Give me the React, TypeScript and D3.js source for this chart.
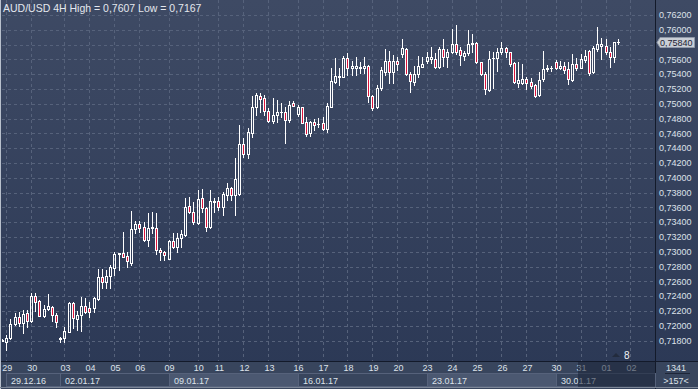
import React from "react";
import * as d3 from "d3";

// 4H candles, [open, high, low, close]
const candles: number[][] = [
  [0.71801, 0.71822, 0.71794, 0.71808],
  [0.71785, 0.71876, 0.7167, 0.71831],
  [0.71835, 0.72092, 0.71822, 0.72024],
  [0.72024, 0.72173, 0.72011, 0.72119],
  [0.72119, 0.72186, 0.71997, 0.72038],
  [0.72042, 0.72214, 0.71903, 0.72159],
  [0.72173, 0.72214, 0.71984, 0.72069],
  [0.72065, 0.72443, 0.72051, 0.72403],
  [0.72403, 0.72443, 0.722, 0.72322],
  [0.72335, 0.72349, 0.72126, 0.72136],
  [0.72136, 0.72281, 0.72119, 0.72227],
  [0.72231, 0.72434, 0.72214, 0.72268],
  [0.72254, 0.72268, 0.72065, 0.72146],
  [0.72146, 0.72173, 0.71984, 0.72047],
  [0.71828, 0.71853, 0.71777, 0.71835],
  [0.71839, 0.71988, 0.71785, 0.71934],
  [0.7192, 0.72322, 0.71916, 0.72312],
  [0.72304, 0.72322, 0.71974, 0.72101],
  [0.72092, 0.722, 0.71943, 0.72146],
  [0.72146, 0.72393, 0.71934, 0.72268],
  [0.72268, 0.72376, 0.72173, 0.72191],
  [0.72236, 0.72326, 0.72119, 0.72182],
  [0.72236, 0.72393, 0.72186, 0.72372],
  [0.72362, 0.72768, 0.72349, 0.72664],
  [0.72655, 0.72768, 0.72515, 0.72588],
  [0.72588, 0.72754, 0.72515, 0.72673],
  [0.72669, 0.72822, 0.72515, 0.72799],
  [0.72785, 0.73001, 0.72686, 0.72966],
  [0.72966, 0.72984, 0.72754, 0.7298],
  [0.7298, 0.73264, 0.7293, 0.72934],
  [0.72943, 0.73001, 0.72799, 0.72876],
  [0.72853, 0.73551, 0.72822, 0.73304],
  [0.73304, 0.73416, 0.7325, 0.73372],
  [0.73372, 0.73416, 0.73272, 0.73326],
  [0.73331, 0.73407, 0.7315, 0.73159],
  [0.73159, 0.7352, 0.73082, 0.73318],
  [0.73318, 0.73534, 0.73258, 0.73331],
  [0.73318, 0.73524, 0.7297, 0.73024],
  [0.73024, 0.73047, 0.72889, 0.72991],
  [0.73001, 0.73011, 0.72889, 0.72957],
  [0.72903, 0.73153, 0.729, 0.7315],
  [0.7315, 0.73254, 0.73047, 0.73061],
  [0.73061, 0.73258, 0.72993, 0.73191],
  [0.73191, 0.73295, 0.73069, 0.73236],
  [0.73227, 0.73723, 0.73214, 0.7361],
  [0.73619, 0.73736, 0.7352, 0.73542],
  [0.73542, 0.73677, 0.73376, 0.73399],
  [0.73393, 0.73835, 0.73376, 0.73709],
  [0.73723, 0.73845, 0.73542, 0.73588],
  [0.73588, 0.7361, 0.73285, 0.73339],
  [0.73339, 0.73835, 0.73318, 0.73691],
  [0.73677, 0.73723, 0.73542, 0.73691],
  [0.73686, 0.73745, 0.73565, 0.7361],
  [0.7361, 0.73812, 0.73497, 0.73781],
  [0.73768, 0.73934, 0.737, 0.73858],
  [0.73858, 0.7388, 0.737, 0.73768],
  [0.73768, 0.74264, 0.73497, 0.7398],
  [0.73781, 0.74714, 0.73768, 0.74453],
  [0.74453, 0.74534, 0.74285, 0.74322],
  [0.74322, 0.74669, 0.74264, 0.74623],
  [0.74601, 0.75105, 0.74547, 0.74961],
  [0.74961, 0.7515, 0.74849, 0.75119],
  [0.75105, 0.75142, 0.74893, 0.75061],
  [0.75074, 0.75119, 0.74849, 0.74907],
  [0.74907, 0.74943, 0.74758, 0.74772],
  [0.74772, 0.75074, 0.74745, 0.74849],
  [0.74849, 0.75051, 0.74758, 0.74893],
  [0.74889, 0.75011, 0.74826, 0.74893],
  [0.74893, 0.74961, 0.74474, 0.74781],
  [0.74781, 0.75042, 0.74758, 0.74984],
  [0.75015, 0.75042, 0.7497, 0.74974],
  [0.74858, 0.74984, 0.74835, 0.74953],
  [0.74953, 0.74961, 0.74736, 0.74745],
  [0.7475, 0.74818, 0.74565, 0.74592],
  [0.74601, 0.74772, 0.74565, 0.7475],
  [0.7475, 0.74791, 0.74646, 0.74718],
  [0.74727, 0.74804, 0.74691, 0.74723],
  [0.74736, 0.74818, 0.74646, 0.74655],
  [0.74655, 0.75007, 0.74623, 0.7497],
  [0.74961, 0.7548, 0.74953, 0.75308],
  [0.75299, 0.75615, 0.75277, 0.75376],
  [0.75358, 0.7548, 0.75254, 0.75376],
  [0.75366, 0.75646, 0.75358, 0.75623],
  [0.75615, 0.75682, 0.75389, 0.7548],
  [0.7548, 0.75582, 0.75389, 0.75511],
  [0.7548, 0.75628, 0.75389, 0.75511],
  [0.75491, 0.75569, 0.7542, 0.75488],
  [0.7548, 0.75636, 0.75412, 0.75511],
  [0.75511, 0.75524, 0.75028, 0.75105],
  [0.75105, 0.75119, 0.74916, 0.74939],
  [0.74953, 0.75254, 0.74939, 0.75209],
  [0.75209, 0.75501, 0.75186, 0.75457],
  [0.75434, 0.75736, 0.75389, 0.75582],
  [0.75582, 0.75718, 0.75285, 0.75434],
  [0.75434, 0.75659, 0.75285, 0.75582],
  [0.75582, 0.75636, 0.75457, 0.75538],
  [0.75669, 0.75872, 0.75636, 0.7575],
  [0.75745, 0.7575, 0.75395, 0.75403],
  [0.75403, 0.75434, 0.75164, 0.75312],
  [0.75299, 0.75511, 0.75254, 0.75403],
  [0.75403, 0.75646, 0.75366, 0.75511],
  [0.75501, 0.75628, 0.75493, 0.75538],
  [0.75582, 0.75704, 0.75555, 0.75628],
  [0.75601, 0.75772, 0.75555, 0.75628],
  [0.75601, 0.75691, 0.7548, 0.75501],
  [0.75493, 0.75772, 0.7548, 0.75736],
  [0.75741, 0.75872, 0.75511, 0.75632],
  [0.75628, 0.75736, 0.75501, 0.75704],
  [0.75704, 0.76007, 0.75682, 0.75808],
  [0.75808, 0.76065, 0.75673, 0.75704],
  [0.75727, 0.75772, 0.75524, 0.75659],
  [0.7565, 0.75714, 0.75592, 0.75682],
  [0.75682, 0.75997, 0.75659, 0.75804],
  [0.75804, 0.75939, 0.75704, 0.75818],
  [0.75818, 0.75831, 0.75547, 0.75561],
  [0.75561, 0.75569, 0.75389, 0.75399],
  [0.75399, 0.75434, 0.75128, 0.752],
  [0.75186, 0.75714, 0.75173, 0.75605],
  [0.75615, 0.75696, 0.75218, 0.75623],
  [0.75615, 0.75758, 0.75443, 0.75696],
  [0.75696, 0.75839, 0.75669, 0.7575],
  [0.7575, 0.75772, 0.75636, 0.75696],
  [0.75696, 0.75704, 0.75515, 0.75534],
  [0.75547, 0.75561, 0.75277, 0.75299],
  [0.75277, 0.75569, 0.75231, 0.75322],
  [0.75277, 0.75534, 0.75274, 0.75335],
  [0.75335, 0.75366, 0.752, 0.75285],
  [0.75291, 0.75353, 0.75218, 0.75245],
  [0.75254, 0.75264, 0.75096, 0.75109],
  [0.75119, 0.75426, 0.75109, 0.75322],
  [0.75331, 0.75714, 0.75308, 0.7547],
  [0.7547, 0.75524, 0.75443, 0.75488],
  [0.75481, 0.75515, 0.75443, 0.75484],
  [0.75561, 0.75592, 0.7547, 0.75488],
  [0.75488, 0.75578, 0.7547, 0.75515],
  [0.75515, 0.75561, 0.75412, 0.75457],
  [0.7547, 0.75561, 0.75264, 0.75331],
  [0.75322, 0.75669, 0.75308, 0.75534],
  [0.75534, 0.75623, 0.75457, 0.7548],
  [0.75488, 0.75669, 0.7548, 0.75605],
  [0.75592, 0.75727, 0.75561, 0.7565],
  [0.75714, 0.75727, 0.75389, 0.75412],
  [0.75426, 0.75785, 0.75412, 0.7575],
  [0.75741, 0.76042, 0.75714, 0.75804],
  [0.75785, 0.75885, 0.75605, 0.75804],
  [0.75785, 0.75876, 0.75669, 0.75696],
  [0.75696, 0.75772, 0.75501, 0.75636],
  [0.75636, 0.75839, 0.75569, 0.75831],
  [0.75831, 0.75876, 0.75804, 0.7584],
];

const priceTicks = [
  0.718, 0.72, 0.722, 0.724, 0.726, 0.728, 0.73, 0.732, 0.734, 0.736, 0.738,
  0.74, 0.742, 0.744, 0.746, 0.748, 0.75, 0.752, 0.754, 0.756, 0.758, 0.76, 0.762,
];

// day label -> index of the candle where that day begins
const dayLabels = ["29", "30", "03", "04", "05", "06", "09", "10", "11", "12", "13", "16", "17",
  "18", "19", "20", "23", "24", "25", "26", "27", "30", "31", "01", "02"];
const dayStarts = [1, 7, 15, 21, 27, 33, 40, 47, 52, 58, 64, 71, 77, 83, 89, 95, 102, 108, 114,
  120, 126, 133, 139, 145, 151];

const weekLabels = ["29.12.16", "02.01.17", "09.01.17", "16.01.17", "23.01.17", "30.01.17"];
const weekStarts = [1, 14, 40, 71, 102, 133];

const title = "AUD/USD 4H High = 0,7607 Low = 0,7167";
const lastPrice = 0.7584;
const barCount = "1341";
const barInfo = ">157<";

const W = 698;
const H = 389;
const plotRight = 655;
const plotBottom = 361;
const FONT = "'Liberation Sans', Arial, sans-serif";
const RED = "#dc143c";
const TXT = "#dde2ea";
const fmt = (v: number) => v.toFixed(5).replace(".", ",");

export default function App() {
  const x = d3.scaleLinear().domain([0, 148]).range([2.04, 618]);
  const y = d3.scaleLinear().domain([0.718, 0.762]).range([340.6, 15]);
  const snap = (v: number) => Math.round(v) + 0.5;

  const lastY = Math.round(y(lastPrice)) + 0.5;
  const fadeX = 578;

  return (
    <svg width={W} height={H} style={{ position: "absolute", left: 0, top: 0 }}
      fontFamily={FONT}>
      <defs>
        <linearGradient id="bg" x1="0" y1="0" x2="0" y2="1">
          <stop offset="0" stopColor="#3e4a64" />
          <stop offset="1" stopColor="#2b3855" />
        </linearGradient>
        <clipPath id="plotClip">
          <rect x={2} y={0} width={plotRight - 2} height={plotBottom} />
        </clipPath>
      </defs>
      <rect width={W} height={H} fill="url(#bg)" />

      {/* grid */}
      <g stroke="#56627b" strokeDasharray="3,3" strokeWidth={1}>
        {priceTicks.map((t) => (
          <line key={"h" + t} x1={2} x2={plotRight} y1={snap(y(t))} y2={snap(y(t))} />
        ))}
        {dayStarts.map((d, i) =>
          x(d) + 1 < plotRight ? (
            <line key={"v" + i} x1={snap(x(d))} x2={snap(x(d))} y1={0} y2={plotBottom} />
          ) : null
        )}
      </g>

      {/* candles */}
      <g clipPath="url(#plotClip)">
        {candles.map((c, i) => {
          const [o, h, l, cl] = c;
          const cx = Math.round(x(i));
          const up = cl >= o;
          const top = Math.round(y(Math.max(o, cl)));
          const bot = Math.round(y(Math.min(o, cl)));
          const hy = Math.round(y(h));
          const ly = Math.round(y(l));
          const wx = cx + 0.5;
          if (bot - top < 1) {
            return (
              <g key={i} stroke="#fff" strokeWidth={1}>
                <line x1={wx} x2={wx} y1={hy} y2={ly + 1} />
                <line x1={cx - 1} x2={cx + 2} y1={top + 0.5} y2={top + 0.5} />
              </g>
            );
          }
          return (
            <g key={i} stroke="#fff" strokeWidth={1}>
              <line x1={wx} x2={wx} y1={hy} y2={top} />
              <line x1={wx} x2={wx} y1={bot + 1} y2={ly + 1} />
              <rect x={cx - 0.5} y={top + 0.5} width={2} height={bot - top}
                fill={up ? "none" : RED} />
            </g>
          );
        })}
      </g>

      <text x={3} y={12} fill="#e4e8ee" fontSize={10.5}>{title}</text>

      {/* right axis */}
      <line x1={plotRight + 0.5} x2={plotRight + 0.5} y1={0} y2={H} stroke="#131a2a" />
      <g fill={TXT} fontSize={9}>
        {priceTicks.map((t) =>
          Math.abs(y(t) - lastY) > 8 ? (
            <text key={"t" + t} x={659} y={y(t)} dy="0.35em">{fmt(t)}</text>
          ) : null
        )}
      </g>
      <g>
        <path d={`M${plotRight + 2},${lastY} L${plotRight + 5},${lastY - 5} H${W - 3.5} V${lastY + 5} H${plotRight + 5} Z`}
          fill="#c9ced6" stroke="#8f98a8" />
        <text x={660} y={lastY} dy="0.35em" fill="#1c2233" fontSize={9}>{fmt(lastPrice)}</text>
      </g>

      {/* bottom axis */}
      <rect x={0} y={plotBottom} width={plotRight} height={H - plotBottom} fill="#38455d" />
      <line x1={0} x2={plotRight} y1={plotBottom + 0.5} y2={plotBottom + 0.5} stroke="#131a2a" />
      <g fill={TXT} fontSize={9} textAnchor="middle">
        {dayStarts.map((d, i) => (
          <text key={"d" + i} x={x(d) + 1} y={368} dy="0.35em">{dayLabels[i]}</text>
        ))}
      </g>
      {weekStarts.map((s, i) => {
        const x0 = Math.round(x(s));
        const x1 = i + 1 < weekStarts.length ? Math.round(x(weekStarts[i + 1])) : plotRight;
        return (
          <g key={"w" + i}>
            <rect x={x0 + 0.5} y={373.5} width={x1 - x0} height={13}
              fill={i % 2 === 0 ? (i === 0 ? "#3c4961" : "#4b5871") : "#38455d"}
              stroke="#56627b" />
            <text x={x0 + 5} y={380.5} dy="0.35em" fill={TXT} fontSize={9}>{weekLabels[i]}</text>
          </g>
        );
      })}
      <rect x={fadeX} y={plotBottom + 1} width={plotRight - fadeX} height={H - plotBottom - 2}
        fill="#1a2337" opacity={0.55} />

      {/* corner box */}
      <rect x={plotRight + 1} y={plotBottom} width={W - plotRight - 1} height={H - plotBottom} fill="#38455d" />
      <line x1={plotRight + 1} x2={W} y1={plotBottom + 0.5} y2={plotBottom + 0.5} stroke="#131a2a" />
      <text x={676} y={367.5} dy="0.35em" textAnchor="middle" fill={TXT} fontSize={9}>{barCount}</text>
      <line x1={665} x2={690} y1={373.5} y2={373.5} stroke="#1e2638" />
      <text x={676} y={381} dy="0.35em" textAnchor="middle" fill={TXT} fontSize={9}>{barInfo}</text>

      {/* bars-to-right marker */}
      <path d="M612,357 L616,353 L620,357 Z" fill="#222b3d" />
      <text x={624} y={355} dy="0.35em" fill="#f0f2f5" fontSize={10}>8</text>

      {/* frame */}
      <line x1={0.5} x2={0.5} y1={0} y2={H} stroke="#b8c0cc" />
      <line x1={0} x2={W} y1={H - 1.5} y2={H - 1.5} stroke="#7d8798" />
    </svg>
  );
}
